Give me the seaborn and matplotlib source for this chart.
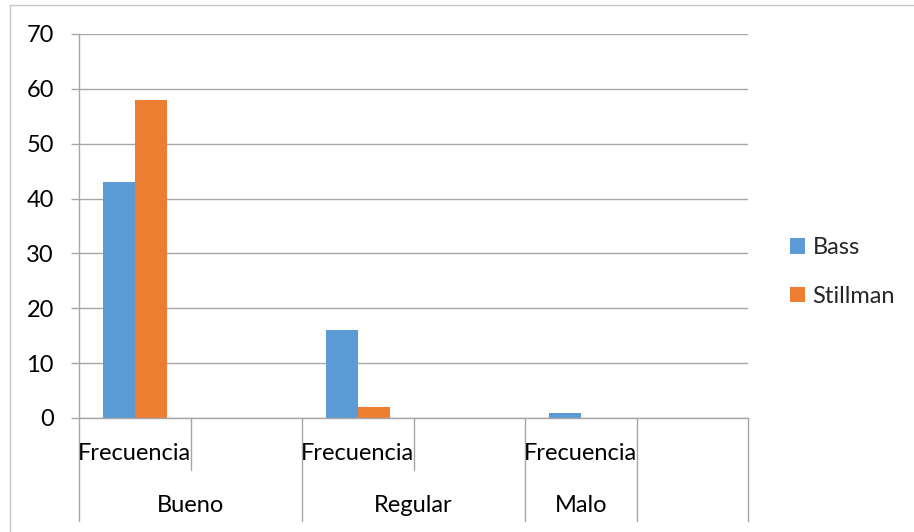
import matplotlib
matplotlib.use("Agg")
import matplotlib.pyplot as plt
import matplotlib.transforms as mtransforms
from matplotlib.lines import Line2D
from matplotlib.patches import Patch
import pandas as pd
import seaborn as sns

# Rating groups and the frequency counts per instrument
groups = ["Bueno", "Regular", "Malo"]
sub_label = "Frecuencia"
bass = [43, 16, 1]
stillman = [58, 2, 0]
series_names = ["Bass", "Stillman"]
colors = ["#5B9BD5", "#ED7D31"]
y_ticks = [0, 10, 20, 30, 40, 50, 60, 70]

# Category slots on the x axis: every group carries a blank slot after it
# except Malo, which is followed by a single blank group.
slot_order = ["Bueno", "Bueno ", "Regular", "Regular ", "Malo", " "]
slot_labels = [sub_label, "", sub_label, "", sub_label, ""]
group_spans = [("Bueno", 0.5), ("Regular", 2.5), ("Malo", 4.0)]
short_bounds = [0.5, 2.5]
long_bounds = [-0.5, 1.5, 3.5, 4.5, 5.5]

rows = []
for g, b, s in zip(groups, bass, stillman):
    rows.append({"slot": g, "serie": series_names[0], "valor": b})
    rows.append({"slot": g, "serie": series_names[1], "valor": s})
df = pd.DataFrame(rows)

sns.set_theme(style="white")
plt.rcParams["font.family"] = ["Lato", "DejaVu Sans"]
FS = 17
W, H = 914, 532
fig = plt.figure(figsize=(W / 100, H / 100), dpi=100)
ax = fig.add_axes([79 / W, 1 - 418 / H, (748 - 79) / W, (418 - 34) / H])

sns.barplot(data=df, x="slot", y="valor", hue="serie", order=slot_order,
            hue_order=series_names, palette=colors, width=0.574,
            saturation=1, legend=False, linewidth=0, edgecolor="none", ax=ax)

grid_c = "#a6a6a6"
ax.set_xlim(-0.5, 5.5)
ax.set_ylim(0, 70)
ax.set_yticks(y_ticks)
ax.set_yticklabels([str(v) for v in y_ticks], fontsize=FS, color="#000000")
ax.yaxis.grid(True, color=grid_c, linewidth=1.0)
ax.set_axisbelow(True)
ax.tick_params(axis="y", length=6, width=1.0, color=grid_c, pad=12, left=True)
ax.set_xticks(range(len(slot_order)))
ax.set_xticklabels([""] * len(slot_order))
ax.tick_params(axis="x", length=0)
ax.set_xlabel("")
ax.set_ylabel("")
for side in ["top", "right"]:
    ax.spines[side].set_visible(False)
ax.spines["left"].set_color(grid_c)
ax.spines["bottom"].set_color(grid_c)
ax.spines["left"].set_linewidth(1.0)
ax.spines["bottom"].set_linewidth(1.0)

# Multi-level category axis
trans = mtransforms.blended_transform_factory(ax.transData, ax.transAxes)
ax_h = 418 - 34
for x in short_bounds:
    ax.add_line(Line2D([x, x], [0, -52 / ax_h], transform=trans, color=grid_c,
                       linewidth=1.0, clip_on=False))
for x in long_bounds:
    ax.add_line(Line2D([x, x], [0, -103 / ax_h], transform=trans, color=grid_c,
                       linewidth=1.0, clip_on=False))
for i, lab in enumerate(slot_labels):
    if lab:
        ax.text(i, -35 / ax_h, lab, transform=trans, ha="center", va="center",
                fontsize=FS, color="#000000")
for name, xc in group_spans:
    ax.text(xc, -88 / ax_h, name, transform=trans, ha="center", va="center",
            fontsize=FS, color="#000000")

# Legend on the right
handles = [Patch(facecolor=c, edgecolor="none") for c in colors]
fig.legend(handles, series_names, loc="upper left",
           bbox_to_anchor=(790 / W, 1 - 237 / H), frameon=False,
           fontsize=FS, handlelength=0.65, handleheight=0.65,
           handletextpad=0.3, labelspacing=1.18, borderpad=0,
           borderaxespad=0)

# Chart area outline
border_c = "#c8c8c8"
fig.add_artist(Line2D([10 / W, 10 / W], [0, 1 - 5 / H], color=border_c,
                      linewidth=1.0, transform=fig.transFigure))
fig.add_artist(Line2D([10 / W, 1], [1 - 5 / H, 1 - 5 / H], color=border_c,
                      linewidth=1.0, transform=fig.transFigure))

fig.savefig("out.png", dpi=100)
